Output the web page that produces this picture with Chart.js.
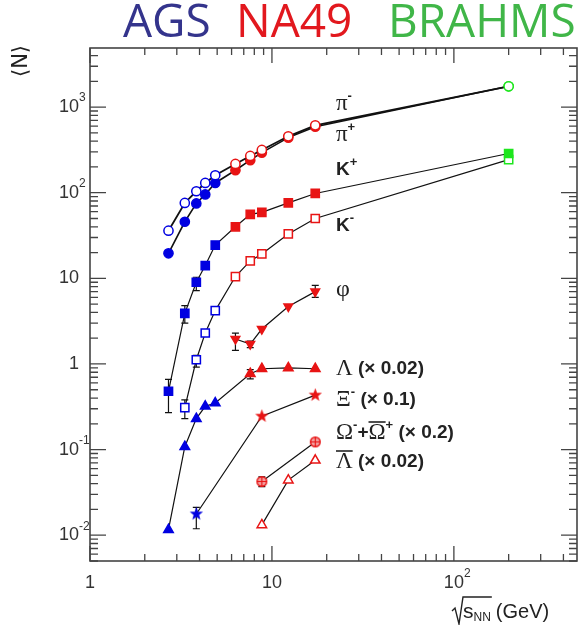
<!DOCTYPE html>
<html>
<head>
<meta charset="utf-8">
<script src="https://cdn.jsdelivr.net/npm/chart.js@4.4.1/dist/chart.umd.min.js"></script>
<style>
  html, body { margin: 0; padding: 0; background: #fff; }
  #wrap { width: 588px; height: 625px; }
</style>
</head>
<body>
<div id="wrap"><canvas id="chart" width="588" height="625"></canvas></div>
<script>
// sqrt(s_NN) in GeV and mean multiplicity <N> for each particle
const piMinusX = [2.7, 3.32, 3.84, 4.3, 4.88, 6.3, 7.6, 8.8, 12.3, 17.3, 200];
const piMinusY = [36, 76, 104, 130, 160, 217, 269, 316, 456, 612, 1750];
const piPlusX  = [2.7, 3.32, 3.84, 4.3, 4.88, 6.3, 7.6, 8.8, 12.3, 17.3, 200];
const piPlusY  = [19.6, 45.8, 75, 95.5, 130, 183, 240, 294, 440, 590, 1750];
const kPlusX   = [2.7, 3.32, 3.84, 4.3, 4.88, 6.3, 7.6, 8.8, 12.3, 17.3, 200];
const kPlusY   = [0.48, 3.9, 9.0, 14.1, 24.5, 40, 56, 59, 76, 98, 287];
const kMinusX  = [3.32, 3.84, 4.3, 4.88, 6.3, 7.6, 8.8, 12.3, 17.3, 200];
const kMinusY  = [0.31, 1.12, 2.3, 4.2, 10.5, 16, 19.3, 33, 50, 244];
const phiX     = [6.3, 7.6, 8.8, 12.3, 17.3];
const phiY     = [1.96, 1.71, 2.56, 4.7, 7.0];
const lambdaX  = [2.7, 3.32, 3.84, 4.3, 4.88, 7.6, 8.8, 12.3, 17.3];
const lambdaY  = [0.0116, 0.108, 0.23, 0.32, 0.35, 0.77, 0.88, 0.90, 0.88];
const xiX      = [3.84, 8.8, 17.3];
const xiY      = [0.0177, 0.246, 0.433];
const omegaX   = [8.8, 17.3];
const omegaY   = [0.0424, 0.123];
const lamBarX  = [8.8, 12.3, 17.3];
const lamBarY  = [0.0132, 0.044, 0.075];

// error bars: energy, low, high
const errX  = [2.7, 3.32, 3.84, 3.32, 3.84, 6.3, 7.6, 17.3, 7.6, 3.84, 8.8];
const errLo = [0.27, 3.0, 7.2, 0.23, 0.92, 1.44, 1.55, 6.0, 0.67, 0.0119, 0.037];
const errHi = [0.66, 4.8, 10.3, 0.38, 1.26, 2.29, 1.85, 8.3, 0.86, 0.0212, 0.048];

// axis ranges and labelled decades
const xMin = 1, xMax = 475;
const yMin = 0.005, yMax = 4900;
const xTickVals = [1, 10, 100];
const xTickText = [['1', ''], ['10', ''], ['10', '2']];
const yTickVals = [0.01, 0.1, 1, 10, 100, 1000];
const yTickText = [['10', '-2'], ['10', '-1'], ['1', ''], ['10', ''], ['10', '2'], ['10', '3']];

const BLUE = 'rgb(0,0,225)', RED = 'rgb(232,20,20)', GREEN = 'rgb(30,230,30)';
const INK = '#222';

function colorFor(x) {
  if (x < 5.5) return BLUE;
  if (x < 100) return RED;
  return GREEN;
}

function makeStar(color) {
  const c = document.createElement('canvas');
  c.width = 15; c.height = 15;
  const g = c.getContext('2d');
  g.fillStyle = color;
  g.beginPath();
  for (let i = 0; i < 10; i++) {
    const r = i % 2 === 0 ? 7 : 2.9;
    const a = -Math.PI / 2 + i * Math.PI / 5;
    g.lineTo(7.5 + r * Math.cos(a), 7.5 + r * Math.sin(a));
  }
  g.closePath();
  g.fill();
  return c;
}

function makeOmega() {
  const c = document.createElement('canvas');
  c.width = 13; c.height = 13;
  const g = c.getContext('2d');
  g.fillStyle = '#f2a0a0';
  g.strokeStyle = RED;
  g.lineWidth = 1.5;
  g.beginPath();
  g.arc(6.5, 6.5, 4.8, 0, Math.PI * 2);
  g.fill();
  g.stroke();
  g.lineWidth = 1.2;
  g.beginPath();
  g.moveTo(6.5, 1.5); g.lineTo(6.5, 11.5);
  g.moveTo(1.5, 6.5); g.lineTo(11.5, 6.5);
  g.stroke();
  return c;
}

function series(xs, ys, style, open, radius, extra) {
  const cols = xs.map(colorFor);
  return Object.assign({
    data: xs.map((x, i) => ({ x: x, y: ys[i] })),
    showLine: true,
    borderColor: '#111',
    borderWidth: 1.2,
    tension: 0,
    pointStyle: style,
    pointRadius: radius,
    pointHoverRadius: radius,
    pointBorderColor: cols,
    pointBackgroundColor: open ? '#fff' : cols,
    pointBorderWidth: 1.5
  }, extra || {});
}

const ctx = document.getElementById('chart').getContext('2d');

const starBlue = makeStar(BLUE), starRed = makeStar(RED), omegaImg = makeOmega();

// frame with inward ticks on all four sides
const frame = {
  id: 'frame',
  afterDraw(chart) {
    const { ctx, chartArea: a, scales } = chart;
    const sx = scales.x, sy = scales.y;
    ctx.save();
    ctx.strokeStyle = '#444';
    ctx.lineWidth = 1.6;
    ctx.strokeRect(a.left, a.top, a.right - a.left, a.bottom - a.top);
    ctx.lineWidth = 1.3;
    ctx.beginPath();
    for (let d = 0; d <= 2; d++) {
      for (let m = 1; m <= 9; m++) {
        const v = m * Math.pow(10, d);
        if (v < xMin || v > xMax) continue;
        const px = sx.getPixelForValue(v);
        const len = m === 1 ? 15 : 7;
        ctx.moveTo(px, a.bottom); ctx.lineTo(px, a.bottom - len);
        ctx.moveTo(px, a.top); ctx.lineTo(px, a.top + len);
      }
    }
    for (let d = -3; d <= 3; d++) {
      for (let m = 1; m <= 9; m++) {
        const v = m * Math.pow(10, d);
        if (v < yMin || v > yMax) continue;
        const py = sy.getPixelForValue(v);
        const len = m === 1 ? 16 : 8;
        ctx.moveTo(a.left, py); ctx.lineTo(a.left + len, py);
        ctx.moveTo(a.right, py); ctx.lineTo(a.right - len, py);
      }
    }
    ctx.stroke();
    ctx.restore();
  }
};

// vertical error bars, under the markers
const errorBars = {
  id: 'errorBars',
  beforeDatasetsDraw(chart) {
    const { ctx, scales } = chart;
    ctx.save();
    ctx.strokeStyle = '#111';
    ctx.lineWidth = 1.2;
    ctx.beginPath();
    errX.forEach((x, i) => {
      const px = scales.x.getPixelForValue(x);
      const lo = scales.y.getPixelForValue(errLo[i]);
      const hi = scales.y.getPixelForValue(errHi[i]);
      ctx.moveTo(px, lo); ctx.lineTo(px, hi);
      ctx.moveTo(px - 3.5, lo); ctx.lineTo(px + 3.5, lo);
      ctx.moveTo(px - 3.5, hi); ctx.lineTo(px + 3.5, hi);
    });
    ctx.stroke();
    ctx.restore();
  }
};

// draws a run of text pieces; piece: [text, font, dy, overline]
function rich(c, x, y, pieces) {
  c.textBaseline = 'middle';
  c.textAlign = 'left';
  let cx = x;
  pieces.forEach(p => {
    c.font = p[1];
    const w = c.measureText(p[0]).width;
    c.fillText(p[0], cx, y + (p[2] || 0));
    if (p[3]) {
      c.save();
      c.lineWidth = 1.6;
      c.beginPath();
      c.moveTo(cx, y - 11); c.lineTo(cx + w, y - 11);
      c.stroke();
      c.restore();
    }
    cx += w;
  });
  return cx;
}

const GR = '23px "Liberation Serif", serif';
const BD = 'bold 19px "Liberation Sans", Arial, sans-serif';
const SUP = 'bold 13px "Liberation Sans", Arial, sans-serif';
const labels = [
  [336, 104, [['π', GR], ['-', SUP, -8]]],
  [336, 135, [['π', GR], ['+', SUP, -8]]],
  [336, 170, [['K', BD], ['+', SUP, -8]]],
  [336, 226, [['K', BD], ['-', SUP, -8]]],
  [336, 290, [['φ', '24px "Liberation Serif", serif']]],
  [336, 369, [['Λ', GR], [' (× 0.02)', BD]]],
  [336, 400, [['Ξ', GR], ['-', SUP, -8], [' (× 0.1)', BD]]],
  [336, 433, [['Ω', GR], ['-', SUP, -8], ['+', BD], ['Ω', GR, 0, true], ['+', SUP, -8], [' (× 0.2)', BD]]],
  [336, 462, [['Λ', GR, 0, true], [' (× 0.02)', BD]]]
];

const texts = {
  id: 'texts',
  afterDraw(chart) {
    const { ctx, chartArea: a, scales } = chart;
    ctx.save();
    ctx.fillStyle = INK;
    ctx.strokeStyle = INK;
    labels.forEach(l => rich(ctx, l[0], l[1], l[2]));

    // tick labels
    const tf = '18px "Liberation Sans", Arial, sans-serif';
    const sf = '12px "Liberation Sans", Arial, sans-serif';
    ctx.fillStyle = '#333';
    xTickVals.forEach((v, i) => {
      const px = scales.x.getPixelForValue(v);
      ctx.font = tf;
      const w = ctx.measureText(xTickText[i][0]).width;
      rich(ctx, px - w / 2, a.bottom + 22, [[xTickText[i][0], tf], [xTickText[i][1], sf, -9]]);
    });
    yTickVals.forEach((v, i) => {
      const py = scales.y.getPixelForValue(v);
      ctx.font = tf;
      const w = ctx.measureText(yTickText[i][0]).width;
      rich(ctx, a.left - 11 - w, py, [[yTickText[i][0], tf], [yTickText[i][1], sf, -9]]);
    });

    // axis titles
    ctx.fillStyle = INK;
    const end = rich(ctx, 463, 612, [['s', '21px "Liberation Sans", Arial, sans-serif'],
      ['NN', '12px "Liberation Sans", Arial, sans-serif', 6]]);
    rich(ctx, end + 5, 612, [['(GeV)', '20px "Liberation Sans", Arial, sans-serif']]);
    ctx.lineWidth = 1.4;
    ctx.beginPath();
    ctx.moveTo(452, 611); ctx.lineTo(455, 608); ctx.lineTo(459, 624);
    ctx.lineTo(463, 597); ctx.lineTo(end + 1, 597);
    ctx.stroke();

    ctx.save();
    ctx.translate(22, 61);
    ctx.rotate(-Math.PI / 2);
    ctx.textAlign = 'center';
    ctx.textBaseline = 'middle';
    ctx.font = '21px "DejaVu Sans", sans-serif';
    ctx.fillText('⟨N⟩', 0, 0);
    ctx.restore();

    // experiment header
    const hf = '46px "Open Sans", sans-serif';
    ctx.textBaseline = 'alphabetic';
    ctx.font = hf;
    ctx.fillStyle = 'rgb(52,52,140)'; ctx.fillText('AGS', 123, 37);
    ctx.fillStyle = 'rgb(226,24,30)'; ctx.fillText('NA49', 236, 37);
    ctx.fillStyle = 'rgb(64,182,72)'; ctx.fillText('BRAHMS', 388, 37);
    ctx.restore();
  }
};

const chart = new Chart(ctx, {
  type: 'scatter',
  data: {
    datasets: [
      series(piMinusX, piMinusY, 'circle', true, 4.6, { borderWidth: 1.8 }),
      series(piPlusX, piPlusY, 'circle', false, 4.6, { borderWidth: 1.6 }),
      series(kPlusX, kPlusY, 'rect', false, 5.8),
      series(kMinusX, kMinusY, 'rect', true, 5.8),
      series(phiX, phiY, 'triangle', false, 5, { pointRotation: 180 }),
      series(lambdaX, lambdaY, 'triangle', false, 5.5),
      series(xiX, xiY, xiX.map(x => x < 5.5 ? starBlue : starRed), false, 6),
      series(omegaX, omegaY, omegaImg, false, 6),
      series(lamBarX, lamBarY, 'triangle', true, 5.5)
    ]
  },
  options: {
    responsive: false,
    animation: false,
    devicePixelRatio: 1,
    layout: { padding: { left: 90, right: 11, top: 48, bottom: 64 } },
    scales: {
      x: { type: 'logarithmic', min: xMin, max: xMax, display: false },
      y: { type: 'logarithmic', min: yMin, max: yMax, display: false }
    },
    plugins: { legend: { display: false }, tooltip: { enabled: false } }
  },
  plugins: [frame, errorBars, texts]
});
</script>
</body>
</html>
